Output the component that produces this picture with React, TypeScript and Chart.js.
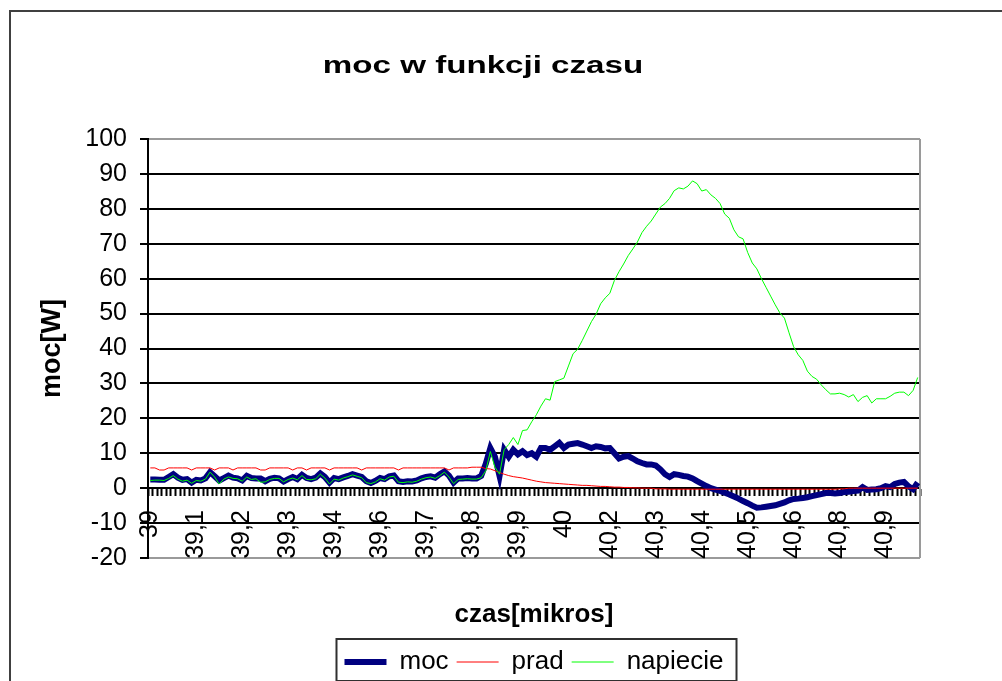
import { useEffect, useRef } from 'react';
import { Chart, registerables } from 'chart.js';

Chart.register(...registerables);

const FONT = '"Liberation Sans", Arial, Helvetica, sans-serif';
const TITLE = 'moc w funkcji czasu';
const X_TITLE = 'czas[mikros]';
const Y_TITLE = 'moc[W]';

// time axis: 168 samples, 0.012 µs apart, starting at 39 µs
const N = 168;
const categories = Array.from({ length: N }, (_, i) => (39 + i * 0.012).toFixed(3).replace('.', ','));
// labels shown on every 10th category
const tickLabels = ['39', '39,1', '39,2', '39,3', '39,4', '39,6', '39,7', '39,8', '39,9', '40', '40,2', '40,3', '40,4', '40,5', '40,6', '40,8', '40,9'];

const yTicks = { min: -20, max: 100, step: 10 };

const moc = [
  2.5, 2.5, 2.4, 2.4, 3.2, 4.0, 3.0, 2.4, 2.6, 1.6,
  2.4, 2.2, 2.8, 4.6, 3.4, 2.2, 2.9, 3.6, 3.0, 2.8,
  2.2, 3.5, 2.9, 2.8, 2.8, 2.0, 2.7, 3.0, 2.8, 1.9,
  2.6, 3.2, 2.6, 3.8, 2.9, 2.6, 3.0, 4.2, 3.2, 1.6,
  2.9, 2.6, 3.1, 3.5, 4.0, 3.6, 3.2, 2.0, 1.5, 2.1,
  2.9, 2.6, 3.4, 3.6, 2.0, 1.8, 2.0, 1.9, 2.2, 2.8,
  3.2, 3.4, 3.0, 4.0, 4.8, 3.6, 1.6, 2.8, 2.8, 2.9,
  2.8, 2.8, 3.5, 7.0, 11.5, 9.0, 3.5, 11.0, 9.0, 11.0,
  9.7, 10.6, 9.5, 10.0, 9.0, 11.5, 11.5, 11.0, 12.0, 13.0,
  11.5, 12.5, 12.7, 12.9, 12.5, 12.0, 11.5, 12.0, 11.8, 11.4,
  11.5, 10.0, 8.5, 9.0, 9.2, 8.5, 7.7, 7.2, 6.8, 6.8,
  6.5, 5.4, 4.0, 3.2, 4.0, 3.8, 3.5, 3.3, 2.8, 2.0,
  1.3, 0.6, 0.0, -0.4, -0.8, -1.3, -1.8, -2.4, -3.0, -3.7,
  -4.3, -5.0, -5.6, -5.5, -5.3, -5.1, -4.9, -4.5, -4.1, -3.5,
  -3.1, -3.0, -2.8, -2.6, -2.3, -2.0, -1.7, -1.4, -1.4, -1.5,
  -1.4, -1.1, -1.0, -0.8, -0.7, 0.3, -0.5, -0.4, -0.3, 0.0,
  0.6, 0.3, 1.2, 1.6, 1.8, 0.5, -0.3, 1.6,
];

const prad = [
  5.8, 5.8, 5.2, 5.2, 5.8, 5.8, 5.8, 5.8, 5.8, 5.2,
  5.8, 5.8, 5.8, 5.8, 5.2, 5.8, 5.8, 5.8, 5.2, 5.8,
  5.8, 5.8, 5.8, 5.8, 5.2, 5.2, 5.8, 5.8, 5.8, 5.8,
  5.8, 5.2, 5.8, 5.8, 5.2, 5.8, 5.8, 5.8, 5.8, 5.2,
  5.8, 5.8, 5.8, 5.8, 5.8, 5.8, 5.2, 5.8, 5.8, 5.8,
  5.8, 5.8, 5.8, 5.8, 5.2, 5.8, 5.8, 5.8, 5.8, 5.8,
  5.8, 5.8, 5.8, 5.8, 5.8, 5.2, 5.8, 5.8, 5.8, 5.8,
  6.0, 6.0, 6.0, 5.6, 5.5, 5.0, 4.5, 4.0, 3.6, 3.3,
  3.1, 2.9, 2.6, 2.3, 2.0, 1.8, 1.6, 1.5, 1.4, 1.3,
  1.2, 1.1, 1.0, 0.9, 0.8, 0.8, 0.7, 0.6, 0.5, 0.5,
  0.4, 0.3, 0.3, 0.2, 0.2, 0.1, 0.1, 0.0, 0.0, 0.0,
  -0.2, -0.2, -0.2, -0.3, -0.3, -0.3, -0.3, -0.3, -0.3, -0.3,
  -0.3, -0.3, -0.3, -0.3, -0.3, -0.3, -0.3, -0.3, -0.3, -0.3,
  -0.3, -0.3, -0.3, -0.3, -0.3, -0.3, -0.3, -0.3, -0.3, -0.3,
  -0.3, -0.3, -0.3, -0.3, -0.3, -0.3, -0.3, -0.3, -0.3, -0.3,
  -0.2, -0.2, 0.0, 0.0, 0.0, 0.0, 0.0, 0.0, 0.0, 0.0,
  0.0, 0.0, 0.0, 0.0, 0.0, 0.0, 0.0, 0.0,
];

const napiecie = [
  2.2, 2.3, 2.3, 2.2, 2.8, 3.6, 2.6, 2.0, 2.3, 1.4,
  2.2, 2.0, 2.6, 4.6, 3.2, 1.2, 2.6, 3.2, 2.8, 2.7,
  2.0, 3.2, 2.5, 2.7, 1.7, 1.8, 2.5, 2.8, 2.8, 1.8,
  2.5, 2.9, 2.4, 3.6, 2.5, 2.4, 2.7, 4.0, 2.9, 1.2,
  2.6, 2.3, 2.9, 3.3, 3.8, 3.4, 3.0, 1.6, 1.3, 1.8,
  2.7, 2.3, 3.2, 3.4, 1.7, 1.6, 1.8, 1.7, 2.0, 2.6,
  3.0, 3.2, 2.8, 3.6, 4.6, 3.2, 1.3, 2.5, 2.6, 2.7,
  2.6, 2.6, 3.0, 5.0, 10.5, 6.0, 4.0, 11.0, 12.5, 14.5,
  12.5, 16.5, 16.7, 19.0, 21.0, 23.5, 25.6, 25.2, 30.5, 31.0,
  31.5, 35.0, 38.5, 39.8, 42.3, 45.0, 47.7, 49.8, 52.8, 54.5,
  55.8, 59.5, 62.0, 64.2, 66.6, 68.5, 70.5, 73.2, 75.0, 76.5,
  78.5, 80.5, 81.5, 83.0, 85.2, 86.0, 85.7, 86.5, 88.0, 87.2,
  85.1, 85.5, 84.0, 83.0, 81.5, 78.5, 77.3, 74.0, 72.0, 71.4,
  67.5, 64.5, 62.8, 60.0, 57.5, 55.0, 52.5, 50.2, 48.7, 44.5,
  40.5, 38.2, 36.6, 33.5, 32.0, 31.2, 29.6, 28.2, 27.0, 27.0,
  27.2, 26.8, 26.1, 26.8, 24.8, 26.0, 26.5, 24.4, 25.6, 25.6,
  25.6, 26.3, 27.2, 27.5, 27.5, 26.5, 28.0, 31.7,
];

const decor = {
  id: 'decor',
  beforeDraw(chart: any) {
    const { ctx, width, height } = chart;
    ctx.save();
    ctx.fillStyle = '#ffffff';
    ctx.fillRect(0, 0, width, height);
    ctx.fillStyle = '#404040';
    ctx.fillRect(9, 10, width - 9, 2);
    ctx.fillRect(9, 10, 2, height - 10);
    ctx.restore();
  },
  beforeDatasetsDraw(chart: any) {
    const { ctx, chartArea } = chart;
    ctx.save();
    ctx.strokeStyle = '#9a9a9a';
    ctx.lineWidth = 2;
    ctx.beginPath();
    ctx.moveTo(chartArea.right, chartArea.top);
    ctx.lineTo(chartArea.right, chartArea.bottom);
    ctx.stroke();
    ctx.restore();
  },
  afterDraw(chart: any) {
    const { ctx } = chart;
    ctx.save();
    ctx.font = `bold 23px ${FONT}`;
    ctx.fillStyle = '#000';
    ctx.textAlign = 'center';
    ctx.textBaseline = 'alphabetic';
    ctx.translate(483, 73);
    ctx.scale(1.44, 1);
    ctx.fillText(TITLE, 0, 0);
    ctx.restore();

    const lg = chart.legend;
    const hb = lg && lg.legendHitBoxes;
    if (hb && hb.length) {
      let l = Infinity, r = -Infinity, t = Infinity, b = -Infinity;
      hb.forEach((h: any) => {
        l = Math.min(l, h.left);
        r = Math.max(r, h.left + h.width);
        t = Math.min(t, h.top);
        b = Math.max(b, h.top + h.height);
      });
      const cy = (t + b) / 2;
      ctx.save();
      ctx.strokeStyle = '#303030';
      ctx.lineWidth = 2;
      ctx.strokeRect(l - 8, cy - 23, r - l + 21, 42);
      ctx.restore();
    }
  },
};

export default function App() {
  const ref = useRef<HTMLCanvasElement | null>(null);

  useEffect(() => {
    document.body.style.overflow = 'hidden';
    const canvas = ref.current;
    if (!canvas) return;
    Chart.defaults.font.family = FONT;
    const chart = new Chart(canvas, {
      type: 'line',
      data: {
        labels: categories,
        datasets: [
          {
            label: 'moc',
            data: moc,
            borderColor: '#000080',
            backgroundColor: '#000080',
            borderWidth: 6,
            pointRadius: 0,
            tension: 0,
            order: 3,
            xAxisID: 'x',
            yAxisID: 'y',
          },
          {
            label: 'prad',
            data: prad,
            borderColor: '#ff0000',
            backgroundColor: '#ff0000',
            borderWidth: 1,
            pointRadius: 0,
            tension: 0,
            order: 2,
            xAxisID: 'x',
            yAxisID: 'y',
          },
          {
            label: 'napiecie',
            data: napiecie,
            borderColor: '#00ff00',
            backgroundColor: '#00ff00',
            borderWidth: 1,
            pointRadius: 0,
            tension: 0,
            order: 1,
            xAxisID: 'x',
            yAxisID: 'y',
          },
        ],
      },
      options: {
        responsive: false,
        animation: false,
        devicePixelRatio: 1,
        layout: { padding: { left: 0, right: 82, top: 139, bottom: -4 } },
        plugins: {
          title: { display: false },
          tooltip: { enabled: false },
          legend: {
            display: true,
            position: 'bottom',
            fullSize: false,
            labels: {
              usePointStyle: true,
              pointStyle: 'line',
              pointStyleWidth: 42,
              boxHeight: 26,
              padding: 8,
              color: '#000',
              font: { family: FONT, size: 26 },
              sort: (a: any, b: any) => a.datasetIndex - b.datasetIndex,
            },
          },
        },
        scales: {
          y: {
            type: 'linear',
            position: 'left',
            min: yTicks.min,
            max: yTicks.max,
            ticks: {
              stepSize: yTicks.step,
              color: '#000',
              padding: 13,
              font: { family: FONT, size: 25 },
            },
            grid: {
              color: (c: any) =>
                c.tick && (c.tick.value === yTicks.max || c.tick.value === yTicks.min) ? '#9a9a9a' : '#000',
              lineWidth: 2,
              tickLength: 8,
              tickColor: '#000',
              tickWidth: 2,
            },
            border: { display: true, color: '#000', width: 2 },
            title: {
              display: true,
              text: Y_TITLE,
              color: '#000',
              font: { family: FONT, size: 27, weight: 'bold' },
              padding: { top: 36, bottom: 0 },
            },
            afterFit: (s: any) => {
              s.width = 148;
            },
          },
          x: {
            type: 'category',
            position: { y: 0 },
            offset: true,
            grid: {
              display: true,
              drawOnChartArea: false,
              drawTicks: true,
              tickLength: 7,
              tickColor: '#000',
              tickWidth: 2,
              offset: true,
            },
            border: { display: true, color: '#000', width: 2 },
            ticks: {
              autoSkip: false,
              minRotation: 90,
              maxRotation: 90,
              padding: 15,
              color: '#000',
              font: { family: FONT, size: 25 },
              callback: (_v: any, idx: number) => (idx % 10 === 0 ? tickLabels[idx / 10] ?? '' : ''),
            },
            afterFit: (s: any) => {
              s.height = 0;
            },
          },
          xt: {
            type: 'category',
            position: 'bottom',
            display: true,
            ticks: { display: false },
            grid: { display: false, drawTicks: false },
            border: { display: false },
            title: {
              display: true,
              text: X_TITLE,
              color: '#000',
              font: { family: FONT, size: 26, weight: 'bold' },
              padding: { top: 0, bottom: 11 },
            },
            afterFit: (s: any) => {
              s.height = 83;
            },
          },
        },
      } as any,
      plugins: [decor],
    });
    return () => chart.destroy();
  }, []);

  return (
    <div style={{ position: 'absolute', left: 0, top: 0, width: 1002, height: 681, overflow: 'hidden' }}>
      <canvas ref={ref} width={1002} height={681} style={{ display: 'block', width: 1002, height: 681 }} />
    </div>
  );
}
